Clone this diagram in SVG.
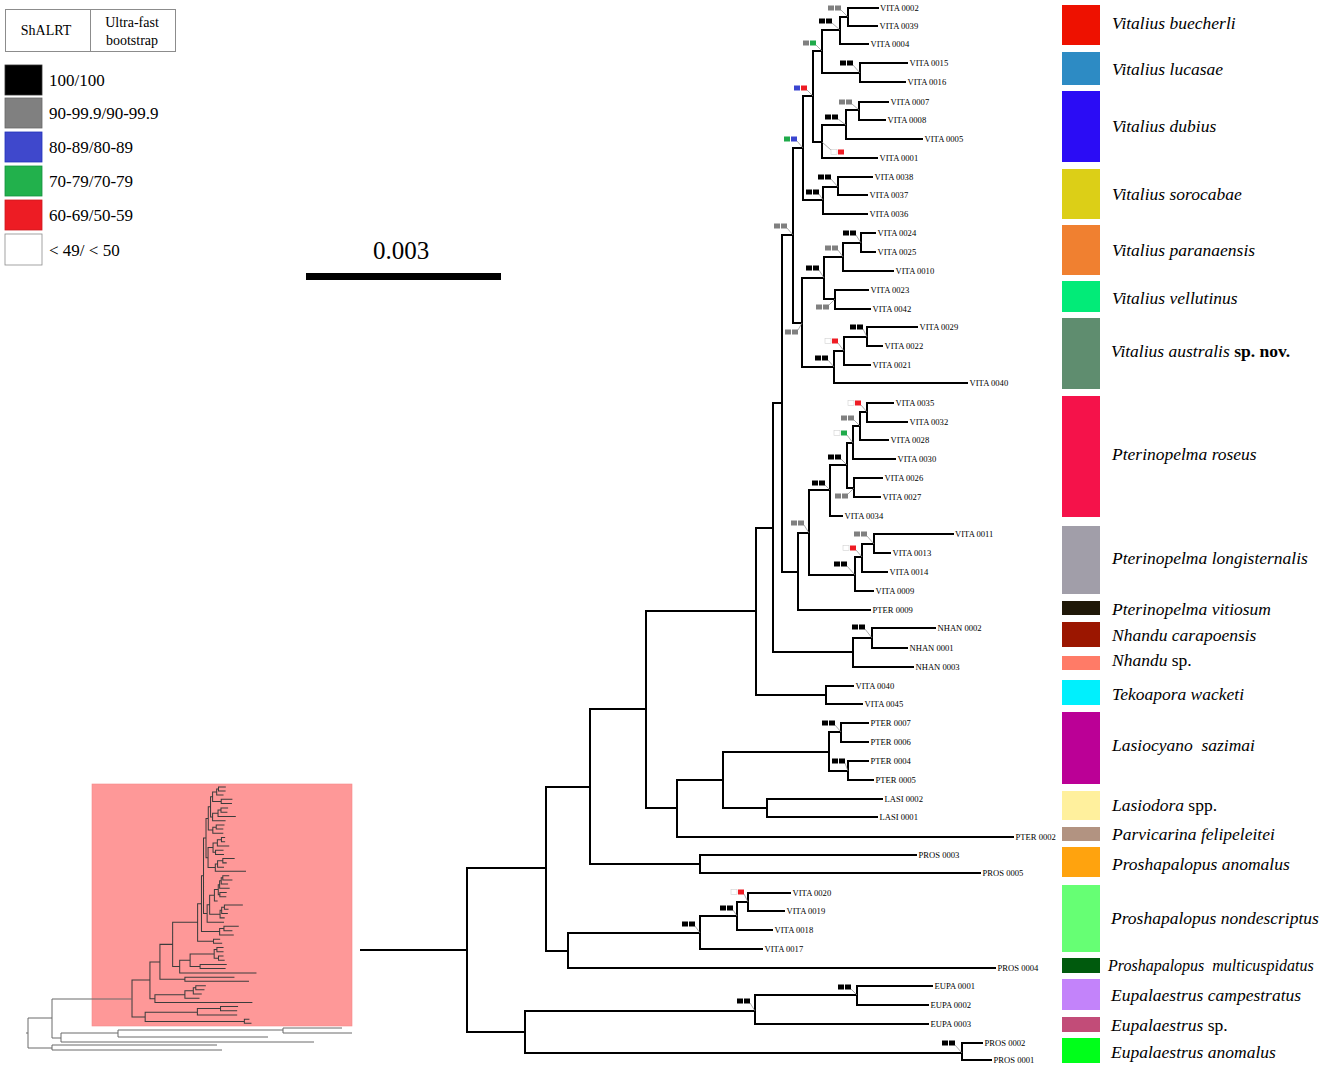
<svg xmlns="http://www.w3.org/2000/svg" xmlns:xlink="http://www.w3.org/1999/xlink" width="1325" height="1068" viewBox="0 0 1325 1068">
<style>
.tip{font-family:"Liberation Serif","Times New Roman",serif;font-size:8.6px;fill:#000}
.sp{font-family:"Liberation Serif","Times New Roman",serif;font-size:17.5px;font-style:italic;fill:#000}
.up{font-style:normal}
.bd{font-style:normal;font-weight:bold}
.lg{font-family:"Liberation Serif","Times New Roman",serif;font-size:17px;fill:#000}
.hd{font-family:"Liberation Serif","Times New Roman",serif;font-size:14px;fill:#000;text-anchor:middle}
.k{fill:#000}.g{fill:#808080}.b{fill:#3a45d0}.gr{fill:#1faa4a}.r{fill:#ee1c24}.w{fill:#fff;stroke:#d0d0d0;stroke-width:0.6}
.ld{stroke:#8a8a8a;stroke-width:0.7}
</style>
<defs>
<path id="treepath" d="M467 868V1032M467 868H546M467 1032H525
M546 787V951M546 787H590M546 951H568
M590 709V864M590 709H646M590 864H700
M700 855V873M700 855H916M700 873H980
M646 611V808M646 611H756M646 808H677
M677 780V837M677 780H723M677 837H1013
M723 752V808M723 752H829M723 808H767
M829 732V771M829 732H841M829 771H848
M841 723V742M841 723H868M841 742H868
M848 761V780M848 761H868M848 780H873
M767 799V817M767 799H882M767 817H877
M756 528V695M756 528H773M756 695H826
M826 686V704M826 686H853M826 704H862
M773 403V652M773 403H782M773 652H853
M853 638V667M853 638H872M853 667H913
M872 628V648M872 628H935M872 648H907
M782 235V572M782 235H793M782 572H798
M798 533V610M798 533H809M798 610H870
M809 490V575M809 490H830M809 575H855
M830 465V516M830 465H847M830 516H842
M847 443V488M847 443H853M847 488H854
M853 426V459M853 426H860M853 459H895
M860 412V440M860 412H867M860 440H888
M867 403V422M867 403H893M867 422H907
M854 478V497M854 478H882M854 497H880
M855 557V591M855 557H862M855 591H873
M862 544V572M862 544H874M862 572H887
M874 534V553M874 534H953M874 553H890
M793 148V323M793 148H803M793 323H802
M803 96V200M803 96H813M803 200H823
M813 51V142M813 51H822M813 142H822
M822 30V73M822 30H840M822 73H860
M840 17V44M840 17H848M840 44H868
M848 8V26M848 8H878M848 26H877
M860 63V82M860 63H907M860 82H905
M822 125V158M822 125H846M822 158H877
M846 110V139M846 110H859M846 139H922
M859 102V120M859 102H888M859 120H885
M823 187V214M823 187H838M823 214H867
M838 177V195M838 177H872M838 195H867
M802 278V367M802 278H824M802 367H834
M824 257V299M824 257H843M824 299H835
M843 243V271M843 243H861M843 271H893
M861 233V252M861 233H875M861 252H875
M835 290V309M835 290H868M835 309H870
M834 351V383M834 351H844M834 383H967
M844 337V365M844 337H867M844 365H870
M867 327V346M867 327H917M867 346H882
M568 933V968M568 933H700M568 968H995
M700 916V949M700 916H737M700 949H762
M737 902V930M737 902H748M737 930H772
M748 893V911M748 893H790M748 911H784
M525 1011V1053M525 1011H755M525 1053H962
M755 995V1024M755 995H857M755 1024H928
M857 986V1005M857 986H932M857 1005H928
M962 1043V1060M962 1043H982M962 1060H991"/>
</defs>
<rect width="1325" height="1068" fill="#fff"/>

<!-- support legend -->
<g id="legend-header">
<rect x="5.5" y="9.5" width="170" height="42" fill="#fff" stroke="#8c8c8c" stroke-width="1"/>
<line x1="90.5" y1="9.5" x2="90.5" y2="51.5" stroke="#8c8c8c" stroke-width="1"/>
<text class="hd" x="46" y="35">ShALRT</text>
<text class="hd" x="132" y="27">Ultra-fast</text>
<text class="hd" x="132" y="45">bootstrap</text>
</g>
<g id="legend-100"><rect x="5" y="65" width="37" height="30" fill="#000" stroke="#333" stroke-width="0.8"/><text class="lg" x="49" y="86">100/100</text></g>
<g id="legend-90"><rect x="5" y="98" width="37" height="30" fill="#808080" stroke="#666" stroke-width="0.8"/><text class="lg" x="49" y="119">90-99.9/90-99.9</text></g>
<g id="legend-80"><rect x="5" y="132" width="37" height="30" fill="#3f48cc" stroke="#2233bb" stroke-width="0.8"/><text class="lg" x="49" y="153">80-89/80-89</text></g>
<g id="legend-70"><rect x="5" y="166" width="37" height="30" fill="#22b14c" stroke="#169040" stroke-width="0.8"/><text class="lg" x="49" y="187">70-79/70-79</text></g>
<g id="legend-60"><rect x="5" y="200" width="37" height="30" fill="#ed1c24" stroke="#cc1a20" stroke-width="0.8"/><text class="lg" x="49" y="221">60-69/50-59</text></g>
<g id="legend-49"><rect x="5" y="234" width="37" height="31" fill="#fff" stroke="#8c8c8c" stroke-width="0.8"/><text class="lg" x="49" y="256">&lt; 49/ &lt; 50</text></g>

<!-- scale bar -->
<g id="scalebar">
<text x="401" y="259" font-family="Liberation Serif, Times New Roman, serif" font-size="25" text-anchor="middle">0.003</text>
<rect x="306" y="273" width="195" height="7" fill="#000"/>
</g>

<!-- thumbnail -->
<g id="thumbnail">
<rect x="92" y="784" width="260" height="242" fill="#fe9898" stroke="#f48a8a" stroke-width="0.6"/>
<use xlink:href="#treepath" href="#treepath" transform="translate(26 785.2) scale(0.227 0.2245)" fill="none" stroke="#3c3c3c" stroke-width="4.5" stroke-linecap="square"/>
<path d="M26 1033H28M28 1018V1048M28 1018H52M28 1048H52M52 999V1038M52 999H132M52 1038H61M61 1033V1042M61 1042H314M61 1033H118M118 1030V1037M118 1037H268M118 1030H283M283 1028V1033M283 1028H342M283 1033H352M52 1045V1050M52 1045H217M52 1050H222" fill="none" stroke="#6a6a6a" stroke-width="1"/>
</g>

<!-- main tree branches -->
<g id="connectors">
<use xlink:href="#treepath" href="#treepath" fill="none" stroke="#000" stroke-width="2" stroke-linecap="square"/>
<path d="M360 950H467" fill="none" stroke="#000" stroke-width="2"/>
</g>

<!-- support values -->
<g id="supports">
<g id="leaders">
<line class="ld" x1="841" y1="10" x2="848" y2="17"/>
<line class="ld" x1="832" y1="23" x2="840" y2="30"/>
<line class="ld" x1="816" y1="45" x2="822" y2="51"/>
<line class="ld" x1="853" y1="65" x2="860" y2="73"/>
<line class="ld" x1="807" y1="90" x2="813" y2="96"/>
<line class="ld" x1="852" y1="104" x2="859" y2="110"/>
<line class="ld" x1="838" y1="119" x2="846" y2="125"/>
<line class="ld" x1="831" y1="150" x2="822" y2="142"/>
<line class="ld" x1="797" y1="141" x2="803" y2="148"/>
<line class="ld" x1="831" y1="179" x2="838" y2="187"/>
<line class="ld" x1="819" y1="194" x2="823" y2="200"/>
<line class="ld" x1="787" y1="228" x2="793" y2="235"/>
<line class="ld" x1="856" y1="235" x2="861" y2="243"/>
<line class="ld" x1="838" y1="250" x2="843" y2="257"/>
<line class="ld" x1="819" y1="270" x2="824" y2="278"/>
<line class="ld" x1="829" y1="305" x2="835" y2="299"/>
<line class="ld" x1="798" y1="330" x2="802" y2="323"/>
<line class="ld" x1="863" y1="329" x2="867" y2="337"/>
<line class="ld" x1="838" y1="343" x2="844" y2="351"/>
<line class="ld" x1="828" y1="360" x2="834" y2="367"/>
<line class="ld" x1="861" y1="405" x2="867" y2="412"/>
<line class="ld" x1="854" y1="420" x2="860" y2="426"/>
<line class="ld" x1="847" y1="435" x2="853" y2="443"/>
<line class="ld" x1="841" y1="459" x2="847" y2="465"/>
<line class="ld" x1="825" y1="485" x2="830" y2="490"/>
<line class="ld" x1="848" y1="494" x2="854" y2="488"/>
<line class="ld" x1="804" y1="525" x2="809" y2="533"/>
<line class="ld" x1="867" y1="536" x2="874" y2="544"/>
<line class="ld" x1="856" y1="550" x2="862" y2="557"/>
<line class="ld" x1="847" y1="566" x2="855" y2="575"/>
<line class="ld" x1="865" y1="629" x2="872" y2="638"/>
<line class="ld" x1="835" y1="725" x2="841" y2="732"/>
<line class="ld" x1="845" y1="763" x2="848" y2="771"/>
<line class="ld" x1="744" y1="894" x2="748" y2="902"/>
<line class="ld" x1="733" y1="910" x2="737" y2="916"/>
<line class="ld" x1="695" y1="926" x2="700" y2="933"/>
<line class="ld" x1="851" y1="989" x2="857" y2="995"/>
<line class="ld" x1="750" y1="1003" x2="755" y2="1011"/>
<line class="ld" x1="955" y1="1045" x2="962" y2="1053"/>
</g>
<rect class="g" x="828" y="5.5" width="6" height="5"/><rect class="g" x="835" y="5.5" width="6" height="5"/>
<rect class="k" x="819" y="18.5" width="6" height="5"/><rect class="k" x="826" y="18.5" width="6" height="5"/>
<rect class="g" x="803" y="40.5" width="6" height="5"/><rect class="gr" x="810" y="40.5" width="6" height="5"/>
<rect class="k" x="840" y="60.5" width="6" height="5"/><rect class="k" x="847" y="60.5" width="6" height="5"/>
<rect class="b" x="794" y="85.5" width="6" height="5"/><rect class="r" x="801" y="85.5" width="6" height="5"/>
<rect class="g" x="839" y="99.5" width="6" height="5"/><rect class="g" x="846" y="99.5" width="6" height="5"/>
<rect class="k" x="825" y="114.5" width="6" height="5"/><rect class="k" x="832" y="114.5" width="6" height="5"/>
<rect class="w" x="831" y="149.5" width="6" height="5"/><rect class="r" x="838" y="149.5" width="6" height="5"/>
<rect class="gr" x="784" y="136.5" width="6" height="5"/><rect class="b" x="791" y="136.5" width="6" height="5"/>
<rect class="k" x="818" y="174.5" width="6" height="5"/><rect class="k" x="825" y="174.5" width="6" height="5"/>
<rect class="k" x="806" y="189.5" width="6" height="5"/><rect class="k" x="813" y="189.5" width="6" height="5"/>
<rect class="g" x="774" y="223.5" width="6" height="5"/><rect class="g" x="781" y="223.5" width="6" height="5"/>
<rect class="k" x="843" y="230.5" width="6" height="5"/><rect class="k" x="850" y="230.5" width="6" height="5"/>
<rect class="g" x="825" y="245.5" width="6" height="5"/><rect class="g" x="832" y="245.5" width="6" height="5"/>
<rect class="k" x="806" y="265.5" width="6" height="5"/><rect class="k" x="813" y="265.5" width="6" height="5"/>
<rect class="g" x="816" y="304.5" width="6" height="5"/><rect class="g" x="823" y="304.5" width="6" height="5"/>
<rect class="g" x="785" y="329.5" width="6" height="5"/><rect class="g" x="792" y="329.5" width="6" height="5"/>
<rect class="k" x="850" y="324.5" width="6" height="5"/><rect class="k" x="857" y="324.5" width="6" height="5"/>
<rect class="w" x="825" y="338.5" width="6" height="5"/><rect class="r" x="832" y="338.5" width="6" height="5"/>
<rect class="k" x="815" y="355.5" width="6" height="5"/><rect class="k" x="822" y="355.5" width="6" height="5"/>
<rect class="w" x="848" y="400.5" width="6" height="5"/><rect class="r" x="855" y="400.5" width="6" height="5"/>
<rect class="g" x="841" y="415.5" width="6" height="5"/><rect class="g" x="848" y="415.5" width="6" height="5"/>
<rect class="w" x="834" y="430.5" width="6" height="5"/><rect class="gr" x="841" y="430.5" width="6" height="5"/>
<rect class="k" x="828" y="454.5" width="6" height="5"/><rect class="k" x="835" y="454.5" width="6" height="5"/>
<rect class="k" x="812" y="480.5" width="6" height="5"/><rect class="k" x="819" y="480.5" width="6" height="5"/>
<rect class="g" x="835" y="493.5" width="6" height="5"/><rect class="g" x="842" y="493.5" width="6" height="5"/>
<rect class="g" x="791" y="520.5" width="6" height="5"/><rect class="g" x="798" y="520.5" width="6" height="5"/>
<rect class="g" x="854" y="531.5" width="6" height="5"/><rect class="g" x="861" y="531.5" width="6" height="5"/>
<rect class="w" x="843" y="545.5" width="6" height="5"/><rect class="r" x="850" y="545.5" width="6" height="5"/>
<rect class="k" x="834" y="561.5" width="6" height="5"/><rect class="k" x="841" y="561.5" width="6" height="5"/>
<rect class="k" x="852" y="624.5" width="6" height="5"/><rect class="k" x="859" y="624.5" width="6" height="5"/>
<rect class="k" x="822" y="720.5" width="6" height="5"/><rect class="k" x="829" y="720.5" width="6" height="5"/>
<rect class="k" x="832" y="758.5" width="6" height="5"/><rect class="k" x="839" y="758.5" width="6" height="5"/>
<rect class="w" x="731" y="889.5" width="6" height="5"/><rect class="r" x="738" y="889.5" width="6" height="5"/>
<rect class="k" x="720" y="905.5" width="6" height="5"/><rect class="k" x="727" y="905.5" width="6" height="5"/>
<rect class="k" x="682" y="921.5" width="6" height="5"/><rect class="k" x="689" y="921.5" width="6" height="5"/>
<rect class="k" x="838" y="984.5" width="6" height="5"/><rect class="k" x="845" y="984.5" width="6" height="5"/>
<rect class="k" x="737" y="998.5" width="6" height="5"/><rect class="k" x="744" y="998.5" width="6" height="5"/>
<rect class="k" x="942" y="1040.5" width="6" height="5"/><rect class="k" x="949" y="1040.5" width="6" height="5"/>
</g>

<!-- tip labels -->
<g id="tips">
<g id="tip01"><text class="tip" x="880" y="11">VITA 0002</text></g>
<g id="tip02"><text class="tip" x="879.5" y="29">VITA 0039</text></g>
<g id="tip03"><text class="tip" x="870.5" y="47">VITA 0004</text></g>
<g id="tip04"><text class="tip" x="909.5" y="66">VITA 0015</text></g>
<g id="tip05"><text class="tip" x="907.5" y="85">VITA 0016</text></g>
<g id="tip06"><text class="tip" x="890.5" y="105">VITA 0007</text></g>
<g id="tip07"><text class="tip" x="887.5" y="123">VITA 0008</text></g>
<g id="tip08"><text class="tip" x="924.5" y="142">VITA 0005</text></g>
<g id="tip09"><text class="tip" x="879.5" y="161">VITA 0001</text></g>
<g id="tip10"><text class="tip" x="874.5" y="180">VITA 0038</text></g>
<g id="tip11"><text class="tip" x="869.5" y="198">VITA 0037</text></g>
<g id="tip12"><text class="tip" x="869.5" y="217">VITA 0036</text></g>
<g id="tip13"><text class="tip" x="877.5" y="236">VITA 0024</text></g>
<g id="tip14"><text class="tip" x="877.5" y="255">VITA 0025</text></g>
<g id="tip15"><text class="tip" x="895.5" y="274">VITA 0010</text></g>
<g id="tip16"><text class="tip" x="870.5" y="293">VITA 0023</text></g>
<g id="tip17"><text class="tip" x="872.5" y="312">VITA 0042</text></g>
<g id="tip18"><text class="tip" x="919.5" y="330">VITA 0029</text></g>
<g id="tip19"><text class="tip" x="884.5" y="349">VITA 0022</text></g>
<g id="tip20"><text class="tip" x="872.5" y="368">VITA 0021</text></g>
<g id="tip21"><text class="tip" x="969.5" y="386">VITA 0040</text></g>
<g id="tip22"><text class="tip" x="895.5" y="406">VITA 0035</text></g>
<g id="tip23"><text class="tip" x="909.5" y="425">VITA 0032</text></g>
<g id="tip24"><text class="tip" x="890.5" y="443">VITA 0028</text></g>
<g id="tip25"><text class="tip" x="897.5" y="462">VITA 0030</text></g>
<g id="tip26"><text class="tip" x="884.5" y="481">VITA 0026</text></g>
<g id="tip27"><text class="tip" x="882.5" y="500">VITA 0027</text></g>
<g id="tip28"><text class="tip" x="844.5" y="519">VITA 0034</text></g>
<g id="tip29"><text class="tip" x="955" y="537">VITA 0011</text></g>
<g id="tip30"><text class="tip" x="892.5" y="556">VITA 0013</text></g>
<g id="tip31"><text class="tip" x="889.5" y="575">VITA 0014</text></g>
<g id="tip32"><text class="tip" x="875.5" y="594">VITA 0009</text></g>
<g id="tip33"><text class="tip" x="872.5" y="613">PTER 0009</text></g>
<g id="tip34"><text class="tip" x="937.5" y="631">NHAN 0002</text></g>
<g id="tip35"><text class="tip" x="909.5" y="651">NHAN 0001</text></g>
<g id="tip36"><text class="tip" x="915.5" y="670">NHAN 0003</text></g>
<g id="tip37"><text class="tip" x="855.5" y="689">VITA 0040</text></g>
<g id="tip38"><text class="tip" x="864.5" y="707">VITA 0045</text></g>
<g id="tip39"><text class="tip" x="870.5" y="726">PTER 0007</text></g>
<g id="tip40"><text class="tip" x="870.5" y="745">PTER 0006</text></g>
<g id="tip41"><text class="tip" x="870.5" y="764">PTER 0004</text></g>
<g id="tip42"><text class="tip" x="875.5" y="783">PTER 0005</text></g>
<g id="tip43"><text class="tip" x="884.5" y="802">LASI 0002</text></g>
<g id="tip44"><text class="tip" x="879.5" y="820">LASI 0001</text></g>
<g id="tip45"><text class="tip" x="1015.5" y="840">PTER 0002</text></g>
<g id="tip46"><text class="tip" x="918.5" y="858">PROS 0003</text></g>
<g id="tip47"><text class="tip" x="982.5" y="876">PROS 0005</text></g>
<g id="tip48"><text class="tip" x="792.5" y="896">VITA 0020</text></g>
<g id="tip49"><text class="tip" x="786.5" y="914">VITA 0019</text></g>
<g id="tip50"><text class="tip" x="774.5" y="933">VITA 0018</text></g>
<g id="tip51"><text class="tip" x="764.5" y="952">VITA 0017</text></g>
<g id="tip52"><text class="tip" x="997.5" y="971">PROS 0004</text></g>
<g id="tip53"><text class="tip" x="934.5" y="989">EUPA 0001</text></g>
<g id="tip54"><text class="tip" x="930.5" y="1008">EUPA 0002</text></g>
<g id="tip55"><text class="tip" x="930.5" y="1027">EUPA 0003</text></g>
<g id="tip56"><text class="tip" x="984.5" y="1046">PROS 0002</text></g>
<g id="tip57"><text class="tip" x="993.5" y="1063">PROS 0001</text></g>
</g>

<!-- species colour key -->
<g id="species">
<g id="sp01"><rect x="1062" y="5" width="38" height="40" fill="#ee1100"/><text class="sp" x="1112" y="29">Vitalius buecherli</text></g>
<g id="sp02"><rect x="1062" y="52" width="38" height="33" fill="#2d8bc4"/><text class="sp" x="1112" y="75">Vitalius lucasae</text></g>
<g id="sp03"><rect x="1062" y="91" width="38" height="71" fill="#2b0cf5"/><text class="sp" x="1112" y="132">Vitalius dubius</text></g>
<g id="sp04"><rect x="1062" y="169" width="38" height="50" fill="#dccf17"/><text class="sp" x="1112" y="200">Vitalius sorocabae</text></g>
<g id="sp05"><rect x="1062" y="225" width="38" height="50" fill="#f08030"/><text class="sp" x="1112" y="256">Vitalius paranaensis</text></g>
<g id="sp06"><rect x="1062" y="281" width="38" height="31" fill="#02eb78"/><text class="sp" x="1112" y="304">Vitalius vellutinus</text></g>
<g id="sp07"><rect x="1062" y="318" width="38" height="71" fill="#5f8d6f"/><text class="sp" x="1111" y="357">Vitalius australis<tspan class="bd"> sp. nov.</tspan></text></g>
<g id="sp08"><rect x="1062" y="396" width="38" height="121" fill="#f5124a"/><text class="sp" x="1112" y="460">Pterinopelma roseus</text></g>
<g id="sp09"><rect x="1062" y="526" width="38" height="68" fill="#a19ea9"/><text class="sp" x="1112" y="564">Pterinopelma longisternalis</text></g>
<g id="sp10"><rect x="1062" y="601" width="38" height="14" fill="#1f1808"/><text class="sp" x="1112" y="615">Pterinopelma vitiosum</text></g>
<g id="sp11"><rect x="1062" y="622" width="38" height="25" fill="#9b1600"/><text class="sp" x="1112" y="641">Nhandu carapoensis</text></g>
<g id="sp12"><rect x="1062" y="656" width="38" height="14" fill="#ff7b67"/><text class="sp" x="1112" y="666">Nhandu<tspan class="up"> sp.</tspan></text></g>
<g id="sp13"><rect x="1062" y="680" width="38" height="25" fill="#00f0fd"/><text class="sp" x="1112" y="700">Tekoapora wacketi</text></g>
<g id="sp14"><rect x="1062" y="712" width="38" height="72" fill="#bb0096"/><text class="sp" x="1112" y="751" style="white-space:pre">Lasiocyano  sazimai</text></g>
<g id="sp15"><rect x="1062" y="791" width="38" height="29" fill="#fff09d"/><text class="sp" x="1112" y="811">Lasiodora<tspan class="up"> spp.</tspan></text></g>
<g id="sp16"><rect x="1062" y="827" width="38" height="14" fill="#b29381"/><text class="sp" x="1112" y="840">Parvicarina felipeleitei</text></g>
<g id="sp17"><rect x="1062" y="847" width="38" height="30" fill="#ffa30e"/><text class="sp" x="1112" y="870">Proshapalopus anomalus</text></g>
<g id="sp18"><rect x="1062" y="885" width="38" height="67" fill="#66ff74"/><text class="sp" x="1111" y="924">Proshapalopus nondescriptus</text></g>
<g id="sp19"><rect x="1062" y="958" width="38" height="15" fill="#005a0d"/><text class="sp" x="1108" y="971" style="white-space:pre;font-size:16px">Proshapalopus  multicuspidatus</text></g>
<g id="sp20"><rect x="1062" y="979" width="38" height="31" fill="#c383fa"/><text class="sp" x="1111" y="1001">Eupalaestrus campestratus</text></g>
<g id="sp21"><rect x="1062" y="1017" width="38" height="15" fill="#c24c78"/><text class="sp" x="1111" y="1031">Eupalaestrus<tspan class="up"> sp.</tspan></text></g>
<g id="sp22"><rect x="1062" y="1038" width="38" height="25" fill="#00ff1a"/><text class="sp" x="1111" y="1058">Eupalaestrus anomalus</text></g>
</g>
</svg>
